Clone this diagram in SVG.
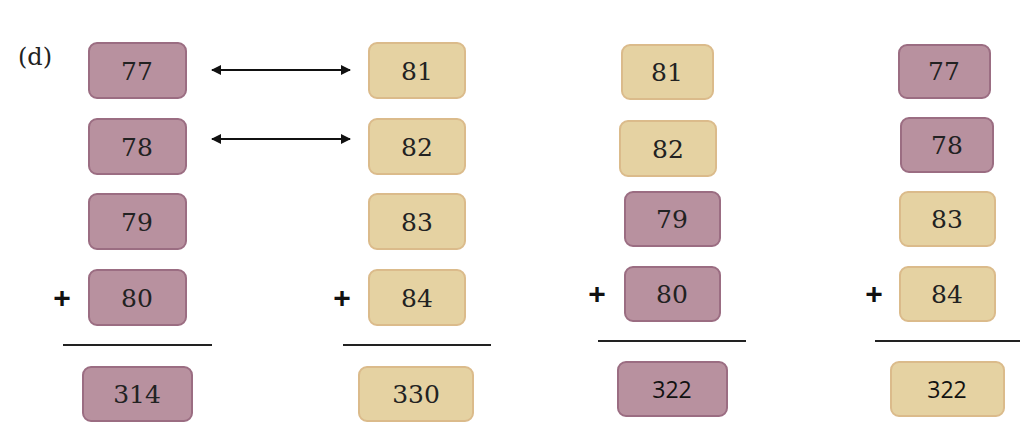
<svg xmlns="http://www.w3.org/2000/svg" width="1024" height="443" viewBox="0 0 1024 443">
<style>
.p{fill:#b8919f;stroke:#9b6d82;stroke-width:2}
.t{fill:#e5d2a2;stroke:#dbbb8b;stroke-width:2}
.n{font-family:"DejaVu Serif","Liberation Serif",serif;font-size:25px;fill:#222;text-anchor:middle;dominant-baseline:central}
.s{font-family:"Open Sans","Liberation Sans",sans-serif;font-size:23px;fill:#111;text-anchor:middle;dominant-baseline:central}
.pl{font-family:"Liberation Sans",sans-serif;font-size:30px;font-weight:bold;fill:#111;text-anchor:middle;dominant-baseline:central}
.ln{stroke:#222;stroke-width:2}
</style>
<defs><marker id="a" viewBox="0 0 10 10" refX="9" refY="5" markerWidth="5" markerHeight="5" orient="auto-start-reverse"><path d="M0,0L10,5L0,10z" fill="#111"/></marker></defs>
<text x="35" y="57" font-family="DejaVu Serif,serif" font-size="24" fill="#222" text-anchor="middle" dominant-baseline="central">(d)</text>
<g id="c1">
<g id="n77a"><rect class="p" x="89" y="43" width="97" height="55" rx="8"/><text class="n" x="137" y="71">77</text></g>
<g id="n78a"><rect class="p" x="89" y="119" width="97" height="55" rx="8"/><text class="n" x="137" y="147">78</text></g>
<g id="n79a"><rect class="p" x="89" y="194" width="97" height="55" rx="8"/><text class="n" x="137" y="222">79</text></g>
<g id="n80a"><rect class="p" x="89" y="270" width="97" height="55" rx="8"/><text class="n" x="137" y="298">80</text></g>
<text class="pl" x="62" y="297">+</text><line class="ln" x1="63" y1="345" x2="212" y2="345"/>
<g id="r1"><rect class="p" x="83" y="367" width="109" height="54" rx="8"/><text class="n" x="137" y="394">314</text></g>
</g>
<g id="c2">
<g id="n81a"><rect class="t" x="369" y="43" width="96" height="55" rx="8"/><text class="n" x="417" y="71">81</text></g>
<g id="n82a"><rect class="t" x="369" y="119" width="96" height="55" rx="8"/><text class="n" x="417" y="147">82</text></g>
<g id="n83a"><rect class="t" x="369" y="194" width="96" height="55" rx="8"/><text class="n" x="417" y="222">83</text></g>
<g id="n84a"><rect class="t" x="369" y="270" width="96" height="55" rx="8"/><text class="n" x="417" y="298">84</text></g>
<text class="pl" x="342" y="297">+</text><line class="ln" x1="343" y1="345" x2="491" y2="345"/>
<g id="r2"><rect class="t" x="359" y="367" width="114" height="54" rx="8"/><text class="n" x="416" y="394">330</text></g>
</g>
<g id="c3">
<g id="n81b"><rect class="t" x="622" y="45" width="91" height="54" rx="8"/><text class="n" x="667" y="72">81</text></g>
<g id="n82b"><rect class="t" x="620" y="121" width="96" height="55" rx="8"/><text class="n" x="668" y="149">82</text></g>
<g id="n79b"><rect class="p" x="625" y="192" width="95" height="54" rx="8"/><text class="n" x="672" y="219">79</text></g>
<g id="n80b"><rect class="p" x="625" y="267" width="95" height="54" rx="8"/><text class="n" x="672" y="294">80</text></g>
<text class="pl" x="597" y="293">+</text><line class="ln" x1="598" y1="341" x2="746" y2="341"/>
<g id="r3"><rect class="p" x="618" y="362" width="109" height="54" rx="8"/><text class="s" x="672" y="389">322</text></g>
</g>
<g id="c4">
<g id="n77b"><rect class="p" x="899" y="45" width="91" height="53" rx="8"/><text class="n" x="944" y="71">77</text></g>
<g id="n78b"><rect class="p" x="901" y="118" width="92" height="54" rx="8"/><text class="n" x="947" y="145">78</text></g>
<g id="n83b"><rect class="t" x="900" y="192" width="95" height="54" rx="8"/><text class="n" x="947" y="219">83</text></g>
<g id="n84b"><rect class="t" x="900" y="267" width="95" height="54" rx="8"/><text class="n" x="947" y="294">84</text></g>
<text class="pl" x="874" y="293">+</text><line class="ln" x1="875" y1="341" x2="1020" y2="341"/>
<g id="r4"><rect class="t" x="891" y="362" width="113" height="54" rx="8"/><text class="s" x="947" y="389">322</text></g>
</g>
<g id="connectors" stroke="#111" stroke-width="2">
<line x1="212" y1="70" x2="350" y2="70" marker-start="url(#a)" marker-end="url(#a)"/>
<line x1="212" y1="139" x2="350" y2="139" marker-start="url(#a)" marker-end="url(#a)"/>
</g>
</svg>
